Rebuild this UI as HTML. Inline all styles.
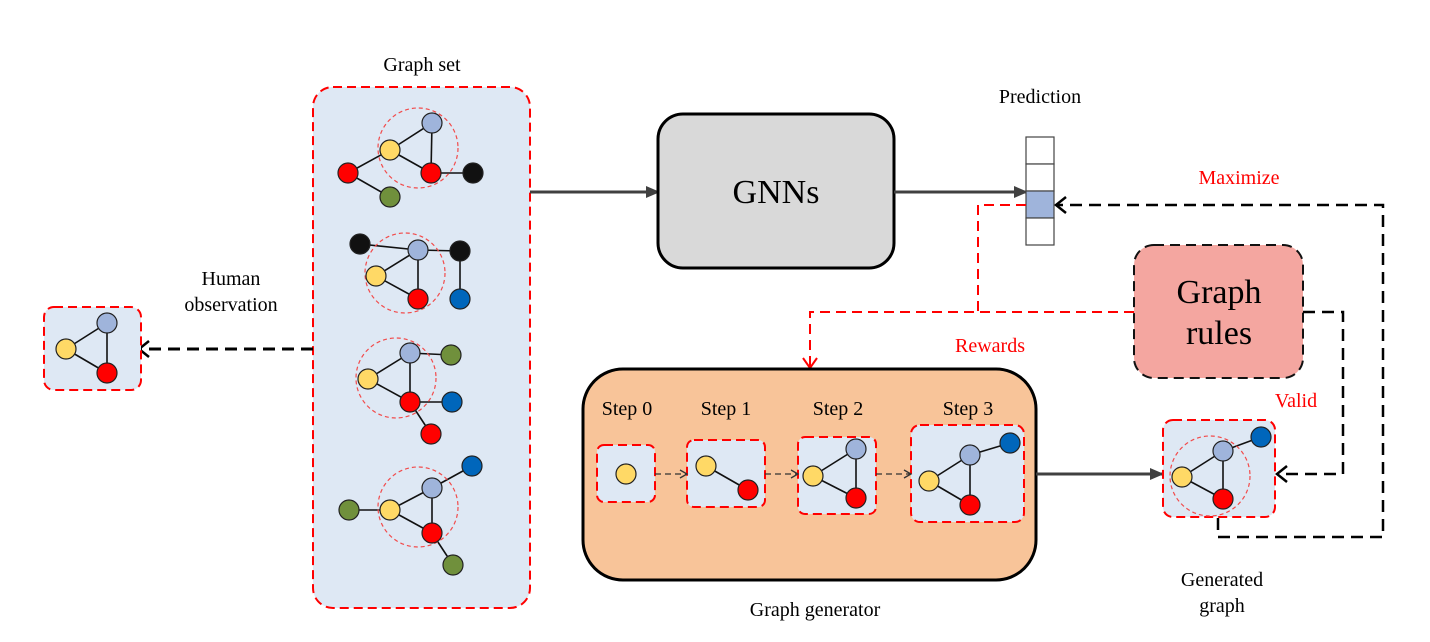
<!DOCTYPE html>
<html><head><meta charset="utf-8"><style>body{margin:0;background:#fff}svg{display:block}text{font-family:"Liberation Serif",serif}</style></head><body>
<svg width="1430" height="642" viewBox="0 0 1430 642" xmlns="http://www.w3.org/2000/svg">
<defs>
<marker id="fa" markerWidth="14" markerHeight="12" refX="12" refY="6" orient="auto" markerUnits="userSpaceOnUse"><path d="M0,0 L14,6 L0,12 z" fill="#404040"/></marker>
<marker id="oa" markerWidth="14" markerHeight="18" refX="12" refY="9" orient="auto" markerUnits="userSpaceOnUse"><path d="M2,1 L12,9 L2,17" fill="none" stroke="#000" stroke-width="2.5"/></marker>
<marker id="ra" markerWidth="14" markerHeight="16" refX="12" refY="8" orient="auto" markerUnits="userSpaceOnUse"><path d="M2,1 L12,8 L2,15" fill="none" stroke="red" stroke-width="2"/></marker>
<marker id="sa" markerWidth="10" markerHeight="10" refX="8" refY="5" orient="auto" markerUnits="userSpaceOnUse"><path d="M1,1 L8,5 L1,9" fill="none" stroke="#333" stroke-width="1.3"/></marker>
</defs>
<style>
.Y{fill:#ffd966}.B{fill:#9fb4db}.R{fill:#ff0000}.K{fill:#111}.G{fill:#70903c}.D{fill:#0066bb}
circle.n{stroke:#222;stroke-width:1.2}
.e{stroke:#111;stroke-width:1.6}
.dc{fill:none;stroke:#f24b4b;stroke-width:1.2;stroke-dasharray:4 3}
.bx{fill:#dee8f4;stroke:red;stroke-width:2;stroke-dasharray:9 5}
</style>
<text x="422" y="71" font-size="20" text-anchor="middle">Graph set</text>
<rect x="313" y="87" width="217" height="521" rx="20" class="bx"/>
<g>
<line class="e" x1="432" y1="123" x2="390" y2="150"/><line class="e" x1="432" y1="123" x2="431" y2="173"/><line class="e" x1="390" y1="150" x2="431" y2="173"/><line class="e" x1="390" y1="150" x2="348" y2="173"/><line class="e" x1="348" y1="173" x2="390" y2="197"/><line class="e" x1="431" y1="173" x2="473" y2="173"/>
<circle class="dc" cx="418" cy="148" r="40"/>
<circle class="n B" cx="432" cy="123" r="10"/><circle class="n Y" cx="390" cy="150" r="10"/><circle class="n R" cx="348" cy="173" r="10"/><circle class="n R" cx="431" cy="173" r="10"/><circle class="n K" cx="473" cy="173" r="10"/><circle class="n G" cx="390" cy="197" r="10"/>
</g>
<g>
<line class="e" x1="360" y1="244" x2="418" y2="250"/><line class="e" x1="418" y1="250" x2="460" y2="251"/><line class="e" x1="460" y1="251" x2="460" y2="299"/><line class="e" x1="418" y1="250" x2="376" y2="276"/><line class="e" x1="418" y1="250" x2="418" y2="299"/><line class="e" x1="376" y1="276" x2="418" y2="299"/>
<circle class="dc" cx="405" cy="273" r="40"/>
<circle class="n K" cx="360" cy="244" r="10"/><circle class="n B" cx="418" cy="250" r="10"/><circle class="n K" cx="460" cy="251" r="10"/><circle class="n Y" cx="376" cy="276" r="10"/><circle class="n R" cx="418" cy="299" r="10"/><circle class="n D" cx="460" cy="299" r="10"/>
</g>
<g>
<line class="e" x1="410" y1="353" x2="451" y2="355"/><line class="e" x1="410" y1="353" x2="368" y2="379"/><line class="e" x1="410" y1="353" x2="410" y2="402"/><line class="e" x1="368" y1="379" x2="410" y2="402"/><line class="e" x1="410" y1="402" x2="452" y2="402"/><line class="e" x1="410" y1="402" x2="431" y2="434"/>
<circle class="dc" cx="396" cy="378" r="40"/>
<circle class="n B" cx="410" cy="353" r="10"/><circle class="n G" cx="451" cy="355" r="10"/><circle class="n Y" cx="368" cy="379" r="10"/><circle class="n R" cx="410" cy="402" r="10"/><circle class="n D" cx="452" cy="402" r="10"/><circle class="n R" cx="431" cy="434" r="10"/>
</g>
<g>
<line class="e" x1="472" y1="466" x2="432" y2="488"/><line class="e" x1="432" y1="488" x2="390" y2="510"/><line class="e" x1="432" y1="488" x2="432" y2="533"/><line class="e" x1="349" y1="510" x2="390" y2="510"/><line class="e" x1="390" y1="510" x2="432" y2="533"/><line class="e" x1="432" y1="533" x2="453" y2="565"/>
<circle class="dc" cx="418" cy="507" r="40"/>
<circle class="n D" cx="472" cy="466" r="10"/><circle class="n B" cx="432" cy="488" r="10"/><circle class="n G" cx="349" cy="510" r="10"/><circle class="n Y" cx="390" cy="510" r="10"/><circle class="n R" cx="432" cy="533" r="10"/><circle class="n G" cx="453" cy="565" r="10"/>
</g>
<text x="231" y="285" font-size="20" text-anchor="middle">Human</text>
<text x="231" y="311" font-size="20" text-anchor="middle">observation</text>
<line x1="313" y1="349" x2="139" y2="349" stroke="#000" stroke-width="3" stroke-dasharray="12 7" marker-end="url(#oa)"/>
<rect x="44" y="307" width="97" height="83" rx="10" class="bx"/>
<line class="e" x1="107" y1="323" x2="66" y2="349"/><line class="e" x1="107" y1="323" x2="107" y2="373"/><line class="e" x1="66" y1="349" x2="107" y2="373"/>
<circle class="n B" cx="107" cy="323" r="10"/><circle class="n Y" cx="66" cy="349" r="10"/><circle class="n R" cx="107" cy="373" r="10"/>
<line x1="530" y1="192" x2="658" y2="192" stroke="#404040" stroke-width="3" marker-end="url(#fa)"/>
<rect x="658" y="114" width="236" height="154" rx="25" fill="#d9d9d9" stroke="#000" stroke-width="3"/>
<text x="776" y="203" font-size="34" text-anchor="middle">GNNs</text>
<line x1="894" y1="192" x2="1026" y2="192" stroke="#404040" stroke-width="3" marker-end="url(#fa)"/>
<text x="1040" y="103" font-size="20" text-anchor="middle">Prediction</text>
<rect x="1026" y="137" width="28" height="27" fill="#fff" stroke="#444" stroke-width="1.2"/>
<rect x="1026" y="164" width="28" height="27" fill="#fff" stroke="#444" stroke-width="1.2"/>
<rect x="1026" y="191" width="28" height="27" fill="#9fb4db" stroke="#444" stroke-width="1.2"/>
<rect x="1026" y="218" width="28" height="27" fill="#fff" stroke="#444" stroke-width="1.2"/>
<text x="1239" y="184" font-size="20" fill="red" text-anchor="middle">Maximize</text>
<path d="M1218,518 V537 H1383 V205 H1056" fill="none" stroke="#000" stroke-width="2.5" stroke-dasharray="12 7" marker-end="url(#oa)"/>
<path d="M1026,205 H978 V312" fill="none" stroke="red" stroke-width="2" stroke-dasharray="10 6"/>
<path d="M1134,312 H810 V368" fill="none" stroke="red" stroke-width="2" stroke-dasharray="10 6" marker-end="url(#ra)"/>
<text x="990" y="352" font-size="20" fill="red" text-anchor="middle">Rewards</text>
<rect x="1134" y="245" width="169" height="133" rx="20" fill="#f4a6a0" stroke="#111" stroke-width="2" stroke-dasharray="10 6"/>
<text x="1219" y="303" font-size="34" text-anchor="middle">Graph</text>
<text x="1219" y="344" font-size="34" text-anchor="middle">rules</text>
<path d="M1303,312 H1343 V474 H1277" fill="none" stroke="#000" stroke-width="2.5" stroke-dasharray="12 7" marker-end="url(#oa)"/>
<text x="1296" y="407" font-size="20" fill="red" text-anchor="middle">Valid</text>
<rect x="583" y="369" width="453" height="211" rx="40" fill="#f8c499" stroke="#000" stroke-width="3"/>
<text x="815" y="616" font-size="20" text-anchor="middle">Graph generator</text>
<text x="627" y="415" font-size="20" text-anchor="middle">Step 0</text>
<text x="726" y="415" font-size="20" text-anchor="middle">Step 1</text>
<text x="838" y="415" font-size="20" text-anchor="middle">Step 2</text>
<text x="968" y="415" font-size="20" text-anchor="middle">Step 3</text>
<rect x="597" y="445" width="58" height="57" rx="7" class="bx"/>
<rect x="687" y="440" width="78" height="67" rx="7" class="bx"/>
<rect x="798" y="437" width="78" height="77" rx="7" class="bx"/>
<rect x="911" y="425" width="113" height="97" rx="9" class="bx"/>
<line x1="655" y1="474" x2="687" y2="474" stroke="#333" stroke-width="1.3" stroke-dasharray="6 4" marker-end="url(#sa)"/>
<line x1="765" y1="474" x2="798" y2="474" stroke="#333" stroke-width="1.3" stroke-dasharray="6 4" marker-end="url(#sa)"/>
<line x1="876" y1="474" x2="911" y2="474" stroke="#333" stroke-width="1.3" stroke-dasharray="6 4" marker-end="url(#sa)"/>
<circle class="n Y" cx="626" cy="474" r="10"/>
<line class="e" x1="706" y1="466" x2="748" y2="490"/>
<circle class="n Y" cx="706" cy="466" r="10"/><circle class="n R" cx="748" cy="490" r="10"/>
<line class="e" x1="856" y1="449" x2="813" y2="476"/><line class="e" x1="856" y1="449" x2="856" y2="498"/><line class="e" x1="813" y1="476" x2="856" y2="498"/>
<circle class="n B" cx="856" cy="449" r="10"/><circle class="n Y" cx="813" cy="476" r="10"/><circle class="n R" cx="856" cy="498" r="10"/>
<line class="e" x1="1010" y1="443" x2="970" y2="455"/><line class="e" x1="970" y1="455" x2="929" y2="481"/><line class="e" x1="970" y1="455" x2="970" y2="505"/><line class="e" x1="929" y1="481" x2="970" y2="505"/>
<circle class="n D" cx="1010" cy="443" r="10"/><circle class="n B" cx="970" cy="455" r="10"/><circle class="n Y" cx="929" cy="481" r="10"/><circle class="n R" cx="970" cy="505" r="10"/>
<line x1="1036" y1="474" x2="1162" y2="474" stroke="#404040" stroke-width="3" marker-end="url(#fa)"/>
<rect x="1163" y="420" width="112" height="97" rx="10" class="bx"/>
<line class="e" x1="1261" y1="437" x2="1223" y2="451"/><line class="e" x1="1223" y1="451" x2="1182" y2="477"/><line class="e" x1="1223" y1="451" x2="1223" y2="499"/><line class="e" x1="1182" y1="477" x2="1223" y2="499"/>
<circle class="dc" cx="1210" cy="476" r="40"/>
<circle class="n D" cx="1261" cy="437" r="10"/><circle class="n B" cx="1223" cy="451" r="10"/><circle class="n Y" cx="1182" cy="477" r="10"/><circle class="n R" cx="1223" cy="499" r="10"/>
<text x="1222" y="586" font-size="20" text-anchor="middle">Generated</text>
<text x="1222" y="612" font-size="20" text-anchor="middle">graph</text>
</svg>
</body></html>
